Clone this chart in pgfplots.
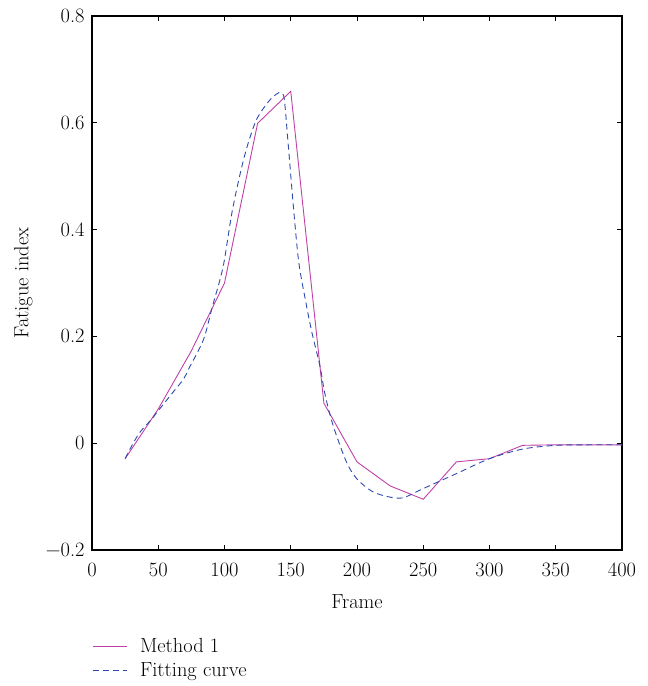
\documentclass[border=0pt]{standalone}
\usepackage{fontspec}
\usepackage{pgfplots}
\pgfplotsset{compat=1.18}
\definecolor{magm}{RGB}{192,64,168}
\definecolor{fitb}{RGB}{45,75,175}
\newcommand{\bigf}{\fontsize{20.5}{24}\selectfont}
\begin{document}
\begin{tikzpicture}
\useasboundingbox (0,0) rectangle (648bp,686bp);
\begin{axis}[
  at={(92bp,136bp)}, anchor=south west,
  scale only axis, width=530bp, height=534bp,
  xmin=0, xmax=400, ymin=-0.2, ymax=0.8,
  xtick={0,50,...,400},
  ytick={-0.2,0,0.2,0.4,0.6,0.8},
  yticklabels={−0.2,0,0.2,0.4,0.6,0.8},
  /pgf/number format/assume math mode=true,
  tick align=inside,
  major tick length=5bp,
  axis line style={line width=1.4pt},
  tick style={line width=0.9pt, black},
  every axis label/.style={font=\bigf},
  tick label style={font=\bigf},
  xlabel={Frame}, ylabel={Fatigue index},
  xlabel style={at={(axis description cs:0.5,0)}, anchor=north, yshift=-41bp},
  ylabel style={at={(axis description cs:0,0.5)}, anchor=south, rotate=0, yshift=56bp},
  yticklabel style={xshift=-4bp},
  xticklabel style={yshift=-9bp},
  legend style={draw=none, at={(axis description cs:0,-0.162)}, anchor=north west,
    inner sep=0pt, font=\bigf, row sep=4bp,
    legend cell align=left},
  legend image code/.code={\draw[#1] (0bp,0bp) -- (34bp,0bp); \path (45bp,0bp);},
]
\addplot[color=magm, line width=0.9pt] coordinates {
(25,-0.029) (50,0.064) (75,0.173) (100,0.300) (125,0.599) (150,0.659)
(175,0.075) (200,-0.035) (225,-0.080) (250,-0.105) (275,-0.035) (300,-0.029)
(325,-0.004) (350,-0.003) (375,-0.003) (400,-0.003)
};
\addlegendentry{Method 1}
\addplot[color=fitb, line width=0.9pt, dash pattern=on 6bp off 4bp, smooth, tension=0.5] coordinates {
(25,-0.029) (30,-0.005) (36,0.020) (45,0.045) (51,0.064) (61,0.095) (69,0.120)
(74,0.144) (80,0.172) (85,0.200) (91,0.257) (99,0.331) (106,0.437) (115,0.537)
(124,0.605) (134,0.642) (140,0.655) (142,0.656) (145,0.646) (148,0.562)
(152,0.443) (156,0.340) (161,0.269) (166,0.207) (172,0.145) (176,0.090)
(182,0.033) (192,-0.035) (200,-0.067) (212,-0.091) (225,-0.101) (235,-0.102)
(250,-0.085) (275,-0.057) (300,-0.029) (325,-0.011) (350,-0.004) (375,-0.003) (400,-0.003)
};
\addlegendentry{Fitting curve}
\end{axis}
\end{tikzpicture}
\end{document}
